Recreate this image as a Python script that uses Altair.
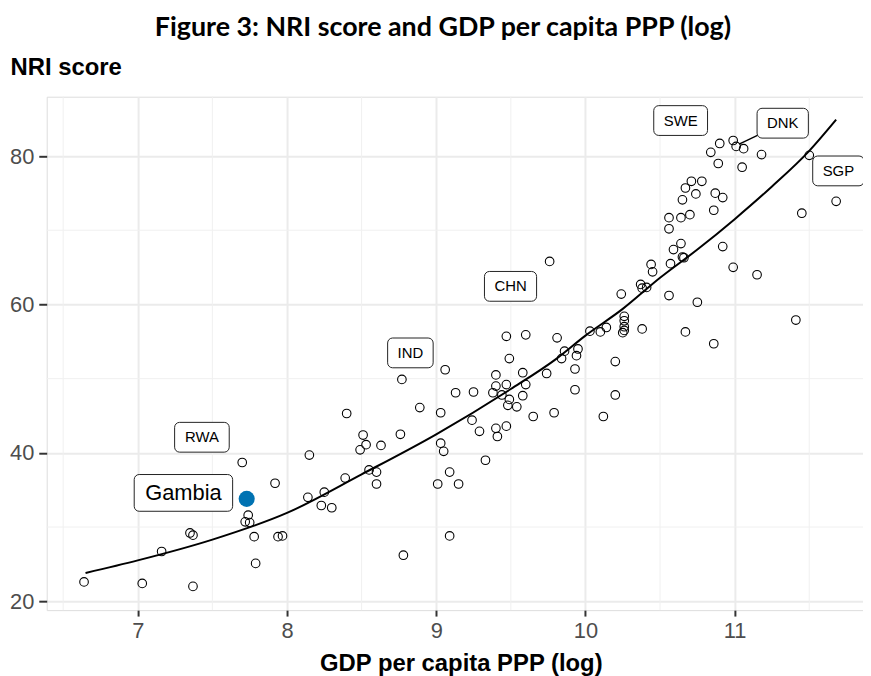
import altair as alt
import pandas as pd

# ---- data ----
gdp_log = [6.64, 7.03, 7.37, 7.16, 7.35, 7.37, 7.70, 7.74, 7.72, 7.75,
           7.78, 7.79, 7.92, 7.94, 7.97, 8.15, 8.14, 8.25, 8.23, 8.30,
           8.39, 8.40, 8.51, 8.53, 8.49, 8.63, 8.55, 8.60, 8.60, 8.76,
           8.77, 8.78, 8.89, 9.06, 9.03, 9.03, 9.05, 9.09, 9.01, 9.15,
           9.09, 9.13, 9.25, 9.24, 9.29, 9.33, 9.40, 9.41, 9.47, 9.40,
           9.40, 9.47, 9.38, 9.44, 9.49, 9.48, 9.54, 9.58, 9.58, 9.60,
           9.65, 9.76, 9.47, 9.60, 9.49, 9.74, 9.81, 9.86, 9.84, 9.95,
           9.94, 9.93, 9.93, 9.79, 10.12, 10.20, 10.20, 10.03, 10.10, 10.14,
           10.26, 10.26, 10.26, 10.26, 10.25, 10.38, 10.24, 10.37, 10.41, 10.38,
           10.44, 10.45, 10.56, 10.57, 10.99, 10.90, 10.84, 11.01, 11.06, 11.18,
           10.89, 11.05, 11.50, 11.68, 11.45, 10.71, 10.78, 10.67, 10.74, 10.65,
           10.87, 10.92, 10.56, 10.64, 10.70, 10.86, 10.56, 10.64, 10.59, 10.65,
           10.66, 10.92, 10.99, 11.15, 10.75, 11.41, 10.67, 10.86]
nri_score = [22.6, 22.4, 22.0, 26.7, 29.2, 28.9, 38.7, 31.6, 30.7, 30.6,
             28.7, 25.1, 35.9, 28.7, 28.8, 39.7, 34.0, 34.7, 32.9, 32.6,
             36.6, 45.3, 42.4, 41.1, 40.4, 41.0, 37.7, 37.4, 35.8, 42.5,
             49.9, 26.2, 46.1, 51.2, 45.4, 41.3, 40.2, 37.4, 35.8, 35.8,
             28.8, 48.1, 48.2, 44.4, 42.9, 39.0, 43.3, 42.2, 43.6, 50.5,
             49.0, 49.2, 48.1, 47.8, 47.2, 46.4, 46.2, 47.7, 50.8, 49.2,
             44.9, 65.8, 55.7, 55.9, 52.7, 50.7, 55.5, 53.7, 52.7, 54.0,
             53.1, 51.3, 48.5, 45.4, 44.9, 47.8, 52.3, 56.4, 56.3, 56.9,
             58.4, 57.8, 57.0, 56.5, 56.2, 56.7, 61.4, 62.7, 62.3, 62.2,
             65.4, 64.4, 61.2, 65.5, 82.1, 81.7, 80.5, 81.3, 81.0, 80.2,
             79.0, 78.5, 80.1, 73.9, 72.3, 76.6, 76.6, 75.7, 74.9, 74.1,
             75.0, 74.4, 71.7, 71.7, 72.1, 72.7, 70.2, 68.2, 67.4, 66.4,
             66.3, 67.8, 65.0, 64.0, 60.3, 57.9, 56.3, 54.7]

gambia_gdp = [7.73]
gambia_nri = [33.8]

fit_gdp = [6.65, 7.0, 7.5, 8.0, 8.5, 9.0, 9.5, 9.8, 10.0, 10.25, 10.5, 10.75, 11.0, 11.25, 11.5, 11.68]
fit_nri = [23.8, 25.5, 28.3, 31.9, 37.1, 42.5, 48.6, 52.6, 55.8, 59.4, 63.6, 67.4, 71.5, 75.9, 80.7, 84.9]

label_text = ["RWA", "Gambia", "IND", "CHN", "SWE", "DNK", "SGP"]
label_gdp = [7.43, 7.306, 8.827, 9.498, 10.638, 11.322, 11.695]
label_nri = [42.1, 34.6, 53.47, 62.44, 84.79, 84.43, 78.0]
label_fs = [15, 22, 15, 15, 15, 15, 15]

seg_gdp = [11.322]
seg_nri = [84.43]
seg_gdp2 = [11.03]
seg_nri2 = [81.6]

major_x = [7, 8, 9, 10, 11]
major_y = [20, 40, 60, 80]
minor_x = [6.5, 7.5, 8.5, 9.5, 10.5, 11.5]
minor_y = [30, 50, 70]

# ---- helpers ----
ARIAL_W = {"R": .722, "W": .944, "A": .667, "G": .778, "a": .556, "m": .833,
           "b": .556, "i": .222, "I": .278, "N": .722, "D": .722, "C": .722,
           "H": .722, "S": .667, "E": .667, "K": .667, "P": .667}


def text_w(s, fs):
    return sum(ARIAL_W.get(c, .6) for c in s) * fs


xs = alt.Scale(domain=[6.39, 11.86], nice=False, zero=False)
ys = alt.Scale(domain=[18.8, 88.0], nice=False, zero=False)

x_axis = alt.Axis(values=major_x, title="GDP per capita PPP (log)", grid=True,
                  gridColor="#EBEBEB", gridWidth=2, domain=False,
                  tickColor="#333333", tickWidth=2, tickSize=6,
                  labelFont="Liberation Sans", labelFontSize=22, labelColor="#4D4D4D",
                  labelPadding=5, titleFont="Liberation Sans", titleFontSize=24,
                  titleFontWeight="bold", titleColor="black", titleX=417, titleY=61,
                  titleAlign="center", titleBaseline="alphabetic")
y_axis = alt.Axis(values=major_y, title="NRI score", grid=True,
                  gridColor="#EBEBEB", gridWidth=2, domain=False,
                  tickColor="#333333", tickWidth=2, tickSize=8,
                  labelFont="Liberation Sans", labelFontSize=22, labelColor="#4D4D4D",
                  labelPadding=5, titleFont="Liberation Sans", titleFontSize=24,
                  titleFontWeight="bold", titleColor="black", titleAngle=0,
                  titleAlign="left", titleX=-37, titleY=-22, titleBaseline="alphabetic")

X = alt.X("gdp:Q", scale=xs, axis=x_axis)
Y = alt.Y("nri:Q", scale=ys, axis=y_axis)

df_pts = pd.DataFrame({"gdp": gdp_log, "nri": nri_score})
df_gam = pd.DataFrame({"gdp": gambia_gdp, "nri": gambia_nri})
df_fit = pd.DataFrame({"gdp": fit_gdp, "nri": fit_nri})
df_lab = pd.DataFrame({"gdp": label_gdp, "nri": label_nri, "txt": label_text, "fs": label_fs})
df_seg = pd.DataFrame({"gdp": seg_gdp, "nri": seg_nri, "gdp2": seg_gdp2, "nri2": seg_nri2})

vminor = alt.Chart(pd.DataFrame({"gdp": minor_x})).mark_rule(
    color="#F0F0F0", strokeWidth=1).encode(x=X)
hminor = alt.Chart(pd.DataFrame({"nri": minor_y})).mark_rule(
    color="#F0F0F0", strokeWidth=1).encode(y=Y)

fit = alt.Chart(df_fit).mark_line(color="black", strokeWidth=2,
                                  interpolate="monotone").encode(x=X, y=Y)
pts = alt.Chart(df_pts).mark_point(shape="circle", filled=False, color="black",
                                   strokeWidth=1.1, size=75, opacity=1).encode(x=X, y=Y)
gam = alt.Chart(df_gam).mark_circle(color="#0072B2", size=263, opacity=1).encode(x=X, y=Y)
seg = alt.Chart(df_seg).mark_rule(color="black", strokeWidth=1.5).encode(
    x=X, y=Y, x2="gdp2:Q", y2="nri2:Q")

layers = [vminor, hminor, fit, pts, gam, seg]
for i, t in enumerate(label_text):
    fs = label_fs[i]
    w = text_w(t, fs) + 20 + (fs - 15) * 0.3
    h = fs + 15
    box = alt.Chart(df_lab.iloc[[i]]).mark_rect(
        width=w, height=h, cornerRadius=5, fill="white", stroke="#222222",
        strokeWidth=1).encode(x=X, y=Y)
    layers.append(box)

txt = alt.Chart(df_lab).mark_text(font="Liberation Sans", color="black",
                                  align="center", baseline="middle").encode(
    x=X, y=Y, text="txt:N", size=alt.Size("fs:Q", scale=None))
layers.append(txt)

chart = alt.layer(*layers).properties(
    width=822, height=517,
    padding={"left": 39, "top": 87, "right": 0, "bottom": 64},
    autosize="none",
    title=alt.TitleParams(text="Figure 3: NRI score and GDP per capita PPP (log)",
                          font="Lato", fontSize=27, fontWeight="bold", color="black",
                          anchor="middle", dx=-12, offset=14)
).configure_view(stroke=None).configure(background="white")

chart.save("out.html", embed_options={"renderer": "svg", "actions": False})
